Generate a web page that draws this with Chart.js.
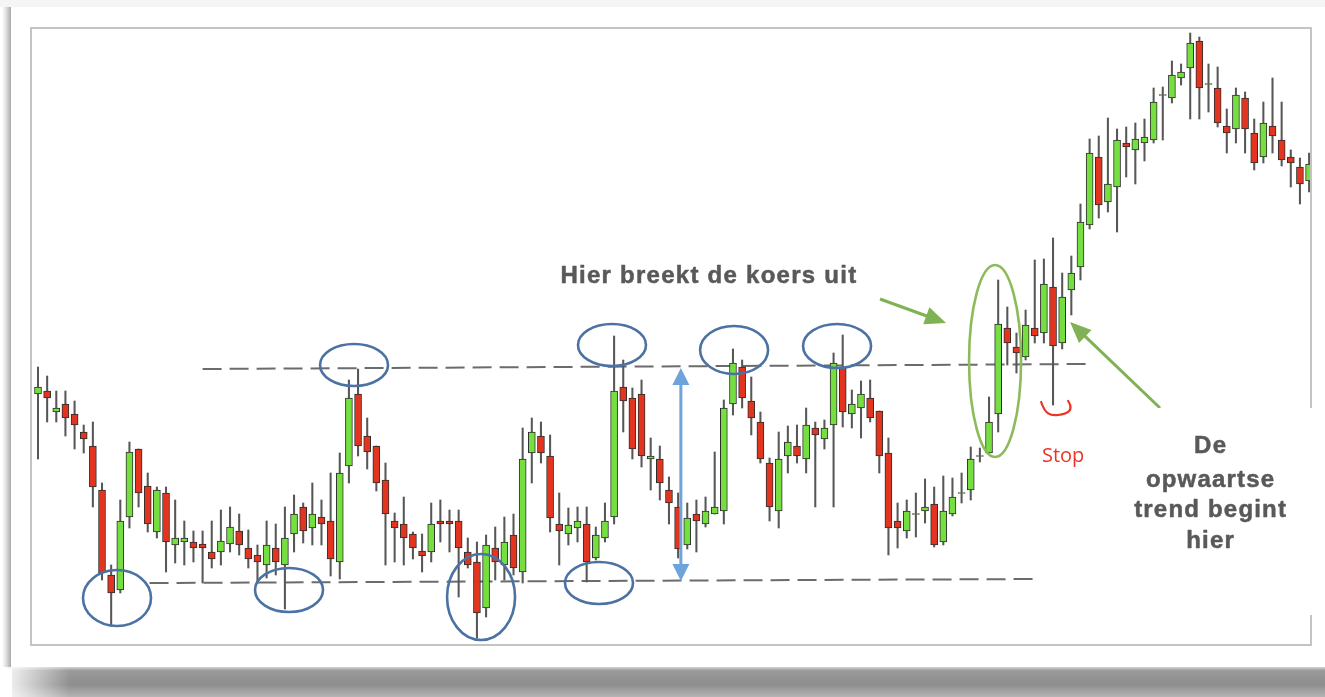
<!DOCTYPE html>
<html><head><meta charset="utf-8">
<script src="https://cdn.jsdelivr.net/npm/chart.js@4.4.1/dist/chart.umd.min.js"></script>
<style>html,body{margin:0;padding:0;background:#fff;overflow:hidden}#wrap{width:1325px;height:697px;position:relative}canvas{display:block}</style>
</head><body><div id="wrap"><canvas id="c" width="1325" height="697"></canvas></div>
<script>
// ---- candle data (price units) ----
const open = [
306,309,288,296,286,268,254,210,125,110,
183,251,214,168,207,155,158,158,156,148,
148,156,169,152,145,135,152,135,166,193,
172,183,179,138,234,306,264,254,220,179,
176,166,149,148,179,179,179,148,138,92,
152,135,165,128,247,264,244,176,166,172,
176,142,162,183,313,302,306,241,241,210,
193,155,186,176,186,189,296,333,299,278,
237,189,244,254,241,272,261,275,333,286,
292,302,289,247,179,169,185.5,189,196,158,
186,206.5,210,243.5,247,286,372,353,343,372,
367,413,357,410,433,475,543,498,513,557,
550,557,560,604.5,602,622,632,659,615.5,612,
574,571,602,567,543,574,560,543,533,519];
const close = [
313,302,292,282,275,261,213,127,107,179,
248,207,176,210,158,162,162,152,152,141,
159,173,155,141,138,155,138,162,186,169,
186,176,141,227,302,254,248,217,186,172,
162,152,144,176,176,176,152,135,87,155,
138,158,132,241,268,247,182,169,175,179,
138,165,179,309,299,251,244,244,217,197,
151,182,179,189,193,292,337,302,282,241,
193,241,258,244,275,265,272,337,288,296,
306,282,244,172,172,189,186.5,193,155,189,
203,207.5,241,244.5,278,376,357,347,375,364,
416,354,403,427,478,547,495,516,560,553,
561,563,598,605.5,625,628,657,612,616.5,577,
567,605,571,537,577,564,540,537,516,536];
const high = [
333,324,309,309,299,275,278,217,135,200,
258,251,227,213,213,200,179,169,169,179,
190,193,186,170,155,179,176,193,205,197,
217,200,227,247,320,331,282,254,237,187,
203,168,166,197,200,190,190,162,158,165,
173,183,186,272,282,278,265,207,192,193,
193,173,197,364,340,312,320,262,254,223,
207,197,200,203,248,300,351,340,323,288,
242,268,274,275,292,278,280,347,365,310,
319,320,289,262,197,200,207,221,213,224,
222,227,253,252,303,420,393,367,390,440,
441,462,427,444,496,561,564,582,571,573,
577,581,612,613,639,636,667,663,636,633,
591,612,608,581,598,622,598,550,542,547];
const low = [
241,278,278,264,251,247,193,120,74,107,
172,193,168,162,128,137,135,138,117,132,
135,148,145,132,117,122,125,91,148,157,
155,155,124,121,217,244,231,209,135,138,
135,141,128,138,158,148,103,132,62,83,
120,120,125,117,217,237,168,135,155,158,
118,140,158,176,268,241,233,210,200,176,
142,151,148,173,186,176,285,292,265,237,
179,172,227,237,227,193,251,193,273,272,
262,278,227,145,152,162,163,177,153,155,
184,197,200,238,247,268,335,327,340,357,
357,295,351,385,420,471,482,488,468,523,
516,539,557,560,597,615,581,581,588,573,
547,557,547,530,537,547,534,513,496,508];

// resistance / support levels (candle index, price)
const resistX = [18.0, 114.9];
const resistY = [331, 336];
const supportX = [12.2, 109.0];
const supportY = [117, 121];

// ---- annotation geometry (data units + pixel radii) ----
const blueEllipses = [
  {i:8.64,p:102,rx:34,ry:28},{i:27.45,p:110,rx:34,ry:22},{i:34.56,p:335,rx:34,ry:21},
  {i:48.45,p:103,rx:34,ry:43},{i:61.35,p:117,rx:34,ry:21},{i:62.77,p:355,rx:34,ry:21},
  {i:76.12,p:350,rx:34,ry:24},{i:87.38,p:354,rx:34,ry:22}];
const greenEllipse = {i:104.66,p:339,rx:26,ry:96};
const blueArrow = {i:70.3,p1:332,p2:119};
const greenArrows = [{i1:92.08,p1:401,i2:99.3,p2:377},{i1:122.7,p1:292,i2:112.86,p2:378}];

const xMin = -0.656, xMax = 139.10, yMin = 56, yMax = 671;

const GREEN = '#76df40', RED = '#e2341f';

const framePlugin = {
  id:'frame',
  beforeDraw(chart){
    const c = chart.ctx, W = chart.width, H = chart.height, a = chart.chartArea;
    c.save();
    c.fillStyle = '#ffffff'; c.fillRect(0,0,W,H);
    c.fillStyle = '#f5f5f5'; c.fillRect(0,0,W,7);
    // left shadow
    let g = c.createLinearGradient(2,0,11,0);
    g.addColorStop(0,'rgba(190,190,190,0)'); g.addColorStop(1,'rgba(170,170,170,1)');
    c.fillStyle = g; c.fillRect(2,7,9,662);
    // card
    c.fillStyle = '#ffffff'; c.fillRect(11,7,W-11,660);
    // bottom shadow
    g = c.createLinearGradient(0,666,0,697);
    g.addColorStop(0,'#e2e2e2'); g.addColorStop(0.15,'#9a9a9a');
    g.addColorStop(0.6,'#8e8e8e'); g.addColorStop(1,'#b4b4b4');
    c.fillStyle = g; c.fillRect(12,667,W-12,30);
    g = c.createLinearGradient(0,0,70,0);
    g.addColorStop(0,'rgba(255,255,255,1)'); g.addColorStop(1,'rgba(255,255,255,0)');
    c.fillStyle = g; c.fillRect(0,667,70,30);
    // inner chart border
    c.strokeStyle = '#c4c4c4'; c.lineWidth = 2;
    c.strokeRect(a.left-1, a.top-1, a.right-a.left+2, a.bottom-a.top+2);
    c.restore();
  }
};

function arrowHead(c, x1, y1, x2, y2, len, half){
  const ang = Math.atan2(y2-y1, x2-x1);
  c.beginPath();
  c.moveTo(x2,y2);
  c.lineTo(x2 - len*Math.cos(ang) + half*Math.sin(ang), y2 - len*Math.sin(ang) - half*Math.cos(ang));
  c.lineTo(x2 - len*Math.cos(ang) - half*Math.sin(ang), y2 - len*Math.sin(ang) + half*Math.cos(ang));
  c.closePath(); c.fill();
}

function spacedText(c, txt, x, y, ls){
  if ('letterSpacing' in c){
    c.letterSpacing = ls + 'px';
    c.fillText(txt, x + ls/2, y); c.strokeText(txt, x + ls/2, y);
    c.letterSpacing='0px';
  } else { c.fillText(txt, x, y); c.strokeText(txt, x, y); }
}

const annotPlugin = {
  id:'annot',
  afterDatasetsDraw(chart){
    const c = chart.ctx, xs = chart.scales.x, ys = chart.scales.y;
    const X = v => xs.getPixelForValue(v), Y = v => ys.getPixelForValue(v);
    c.save();
    // blue ellipses
    c.strokeStyle = '#4b72a2'; c.lineWidth = 2.6;
    blueEllipses.forEach(e=>{ c.beginPath(); c.ellipse(X(e.i),Y(e.p),e.rx,e.ry,0,0,Math.PI*2); c.stroke(); });
    // green ellipse
    c.strokeStyle = '#8dbb5b'; c.lineWidth = 2.6;
    c.beginPath(); c.ellipse(X(greenEllipse.i),Y(greenEllipse.p),greenEllipse.rx,greenEllipse.ry,0,0,Math.PI*2); c.stroke();
    // blue double arrow
    const bx = X(blueArrow.i), by1 = Y(blueArrow.p1), by2 = Y(blueArrow.p2);
    c.strokeStyle = '#6ea3dc'; c.fillStyle = '#6ea3dc'; c.lineWidth = 3;
    c.beginPath(); c.moveTo(bx, by1+12); c.lineTo(bx, by2-12); c.stroke();
    arrowHead(c, bx, by2, bx, by1, 17, 8.5);
    arrowHead(c, bx, by1, bx, by2, 17, 8.5);
    // green arrows
    c.strokeStyle = '#80b255'; c.fillStyle = '#80b255'; c.lineWidth = 3;
    greenArrows.forEach(a=>{
      const x1=X(a.i1), y1=Y(a.p1), x2=X(a.i2), y2=Y(a.p2);
      const ang = Math.atan2(y2-y1,x2-x1);
      c.beginPath(); c.moveTo(x1,y1); c.lineTo(x2-14*Math.cos(ang), y2-14*Math.sin(ang)); c.stroke();
      arrowHead(c, x1,y1,x2,y2, 21, 9);
    });
    // red stop mark
    const sx = X(109.7), sy = Y(298);
    c.strokeStyle = '#ec3425'; c.lineWidth = 2.2; c.lineCap='round';
    c.beginPath(); c.moveTo(sx, sy);
    c.bezierCurveTo(sx+4, sy+12, sx+9, sy+14, sx+17, sy+13);
    c.bezierCurveTo(sx+27, sy+12, sx+33, sy+8, sx+27, sy-1);
    c.stroke();
    c.fillStyle = '#ec3425'; c.textAlign='center'; c.textBaseline='alphabetic';
    c.font = '20px "Open Sans", "Liberation Sans", sans-serif';
    c.fillText('Stop', X(112.1), Y(238));
    // white box at right
    c.fillStyle = '#ffffff';
    c.fillRect(X(118.9), Y(292), chart.width - X(118.9), Y(85) - Y(292));
    // texts
    c.fillStyle = '#595959'; c.strokeStyle = '#595959'; c.lineWidth = 0.5; c.lineJoin='round';
    c.font = 'bold 24px "Liberation Sans", Arial, sans-serif';
    let t = 'Hier breekt de koers uit';
    let w = c.measureText(t).width;
    spacedText(c, t, X(73.3), Y(417), (297 - w)/t.length);
    const lines = ['De','opwaartse','trend begint','hier'];
    const bases = [247,213,183,152];
    const wref = c.measureText('trend begint').width;
    const ls = (153 - wref)/12;
    lines.forEach((l,k)=> spacedText(c, l, X(128.17), Y(bases[k]), ls));
    c.restore();
  }
};

const bodyData = open.map((o,i)=>({x:i, y:[o, close[i]]}));
const wickData = low.map((l,i)=>({x:i, y:[l, high[i]]}));
const lineData = (xa, ya) => xa.map((x,k)=>({x, y:ya[k]}));

new Chart(document.getElementById('c').getContext('2d'), {
  type:'bar',
  data:{datasets:[
    {type:'line', data:lineData(resistX,resistY), borderColor:'#6b6b6b', borderWidth:2, borderDash:[19,8], pointRadius:0, fill:false, order:3},
    {type:'line', data:lineData(supportX,supportY), borderColor:'#6b6b6b', borderWidth:2, borderDash:[19,8], pointRadius:0, fill:false, order:3},
    {label:'wick', data:wickData, backgroundColor:'#575757', barThickness:1.4, grouped:false, order:2},
    {label:'body', data:bodyData,
      backgroundColor: ctx => (close[ctx.dataIndex] >= open[ctx.dataIndex] ? GREEN : RED),
      borderColor:'#2e2e2e', borderWidth:1, borderSkipped:false, barThickness:7, grouped:false, order:1}
  ]},
  options:{
    responsive:false, animation:false, devicePixelRatio:1,
    layout:{padding:{left:32, top:29, right:15, bottom:53}},
    plugins:{legend:{display:false}, tooltip:{enabled:false}},
    scales:{
      x:{type:'linear', min:xMin, max:xMax, offset:false, display:false},
      y:{type:'linear', min:yMin, max:yMax, display:false}
    }
  },
  plugins:[framePlugin, annotPlugin]
});
</script>
</body></html>
